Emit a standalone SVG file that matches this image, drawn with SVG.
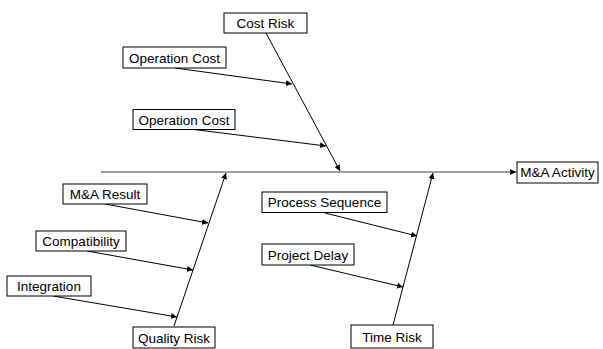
<svg xmlns="http://www.w3.org/2000/svg" width="603" height="349" viewBox="0 0 603 349">
<style>
.box rect{fill:#fff;stroke:#000;stroke-width:1}
.box text{font-family:"Liberation Sans",Arial,sans-serif;font-size:13.5px;fill:#000;text-anchor:middle}
.c{stroke:#000;stroke-width:1;fill:none;marker-end:url(#ah)}
.spine{stroke:#808080;stroke-width:1.5;fill:none;marker-end:url(#ah)}
</style>
<defs>
<marker id="ah" markerUnits="userSpaceOnUse" markerWidth="7" markerHeight="6" refX="6" refY="3" orient="auto">
<path d="M0,0 L6,3 L0,6 z" fill="#000"/>
</marker>
</defs>
<rect width="603" height="349" fill="#fff"/>
<g id="connectors">
<line class="spine" x1="101" y1="172" x2="516" y2="172"/>
<line class="c" x1="266" y1="33" x2="340" y2="171"/>
<line class="c" x1="175" y1="68" x2="292" y2="84"/>
<line class="c" x1="190" y1="129" x2="326" y2="146"/>
<line class="c" x1="174" y1="326" x2="226" y2="173"/>
<line class="c" x1="105" y1="204" x2="208" y2="223"/>
<line class="c" x1="87" y1="251" x2="193" y2="270"/>
<line class="c" x1="53" y1="296" x2="177" y2="317"/>
<line class="c" x1="393" y1="325" x2="433" y2="173"/>
<line class="c" x1="325" y1="213" x2="417" y2="236"/>
<line class="c" x1="310" y1="265" x2="403" y2="287"/>
</g>
<g id="cost-risk" class="box"><rect x="224" y="13" width="83" height="20"/><text x="265.5" y="28">Cost Risk</text></g>
<g id="operation-cost-1" class="box"><rect x="123" y="47" width="103" height="21"/><text x="174.5" y="62.5">Operation Cost</text></g>
<g id="operation-cost-2" class="box"><rect x="133" y="109.5" width="102" height="20"/><text x="184" y="124.5">Operation Cost</text></g>
<g id="ma-activity" class="box"><rect x="517" y="162" width="81" height="21"/><text x="557.5" y="177">M&amp;A Activity</text></g>
<g id="ma-result" class="box"><rect x="63" y="184" width="84" height="20"/><text x="105" y="199">M&amp;A Result</text></g>
<g id="compatibility" class="box"><rect x="36" y="231" width="90" height="20"/><text x="81" y="246">Compatibility</text></g>
<g id="integration" class="box"><rect x="7" y="276" width="84" height="20"/><text x="49" y="291">Integration</text></g>
<g id="quality-risk" class="box"><rect x="133" y="327" width="82" height="21"/><text x="174" y="342.5">Quality Risk</text></g>
<g id="process-sequence" class="box"><rect x="262" y="192" width="125" height="20.5"/><text x="324.5" y="207">Process Sequence</text></g>
<g id="project-delay" class="box"><rect x="262" y="244" width="92" height="21"/><text x="308" y="259.5">Project Delay</text></g>
<g id="time-risk" class="box"><rect x="351" y="325" width="82" height="23"/><text x="392" y="341.5">Time Risk</text></g>
</svg>
